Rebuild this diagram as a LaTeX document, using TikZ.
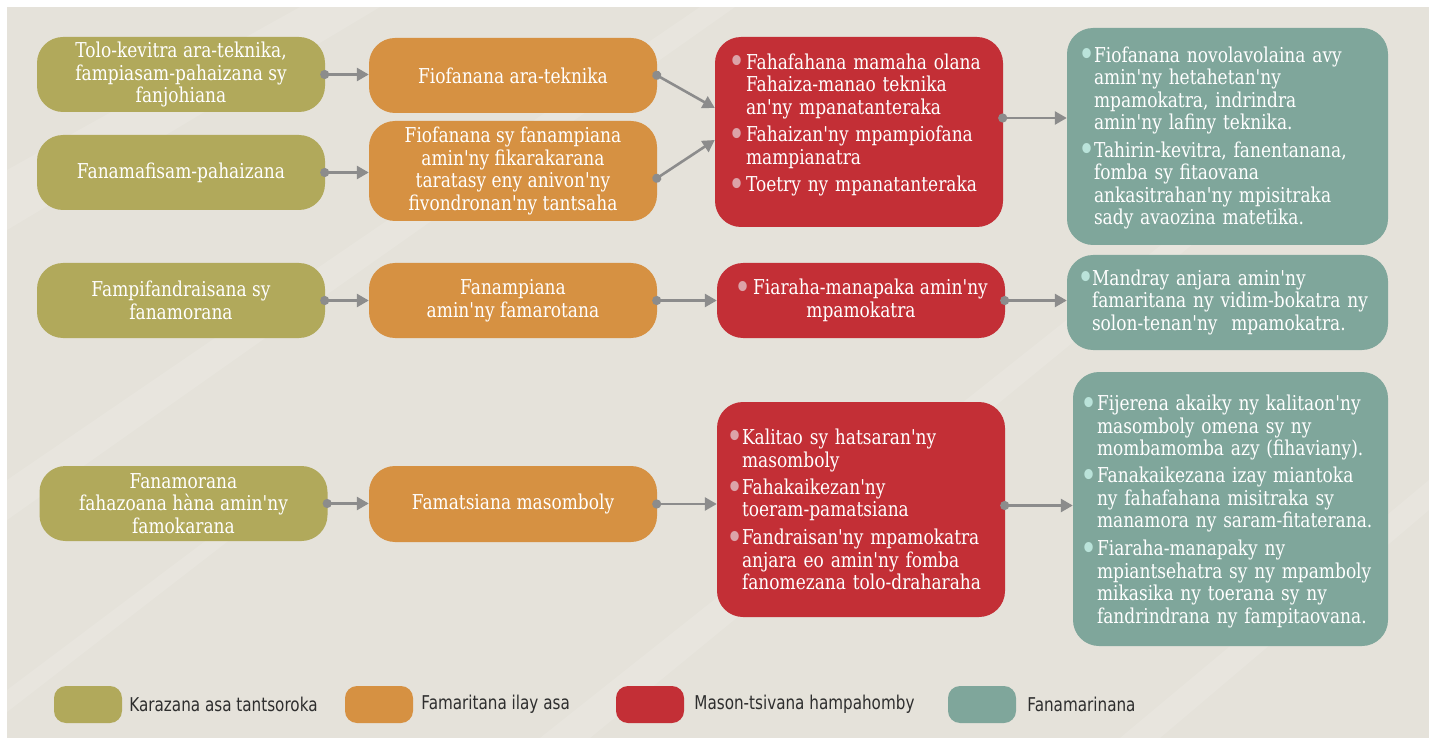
\documentclass[tikz,border=0pt]{standalone}
\usepackage{fontspec}
\setmainfont{DejaVu Serif}[FakeStretch=0.83,Ligatures=TeXOff]
\newfontfamily\legendfont{DejaVu Sans}[FakeStretch=0.8,Ligatures=TeXOff]
\usetikzlibrary{arrows.meta}

\definecolor{paper}{HTML}{E5E2DA}
\definecolor{kindolive}{HTML}{B1A95B}
\definecolor{kindorange}{HTML}{D69142}
\definecolor{kindred}{HTML}{C32F36}
\definecolor{kindteal}{HTML}{7FA69B}
\definecolor{reddot}{HTML}{DCA3A8}
\definecolor{tealdot}{HTML}{BAE3DA}
\definecolor{linkgray}{HTML}{8C8C8C}
\definecolor{legendtext}{HTML}{2E2E2E}

\newcommand{\rdot}{\textcolor{reddot}{\raisebox{-4.5pt}{\scalebox{1.7}{\textbullet}}}}
\newcommand{\tdot}{\textcolor{tealdot}{\raisebox{-4.5pt}{\scalebox{1.7}{\textbullet}}}}
% one bullet paragraph, later lines hang under the text
\newlength{\bindent}
\setlength{\bindent}{16pt}
\newcommand{\bitem}[2]{\par\noindent\hangindent=\bindent\hangafter=1%
  \makebox[\bindent][l]{#1}{\let\\\newline#2}\par}

\begin{document}
\begin{tikzpicture}[x=1pt,y=-1pt,
    box/.style={rounded corners=26pt, inner sep=0pt, text=white, align=center,
      minimum width=288pt, minimum height=75pt, font=\fontsize{20.5}{22.5}\selectfont},
    txt/.style={inner sep=0pt, text=white, anchor=north west,
      font=\fontsize{20.5}{22.5}\selectfont\setlength{\parskip}{5pt}},
    swatch/.style={rounded corners=12pt, minimum width=68pt, minimum height=37pt, inner sep=0pt},
    key/.style={anchor=west, inner sep=0pt, text=legendtext, font=\legendfont\fontsize{19}{20}\selectfont},
    link/.style={draw=linkgray, line width=2.6pt, arrows={Circle[length=9pt]-Triangle[length=12pt,width=13pt]},
      shorten <=-5pt}]
  \useasboundingbox (0,0) rectangle (1436,738);
  \fill[paper] (7,7) rectangle (1429,738);
  % light streaks
  \begin{scope}[white, opacity=0.12]
    \fill (7,170) -- (300,7) -- (380,7) -- (7,230) -- cycle;
    \fill (7,480) -- (700,7) -- (735,7) -- (7,520) -- cycle;
    \fill (540,738) -- (1180,230) -- (1210,230) -- (590,738) -- cycle;
    \fill (1120,738) -- (1429,480) -- (1429,510) -- (1160,738) -- cycle;
    \fill (7,690) -- (300,470) -- (320,470) -- (7,712) -- cycle;
  \end{scope}

  % kinds of support
  \node[box, fill=kindolive] at (181,74.5) (A1) {Tolo-kevitra ara-teknika,\\fampiasam-pahaizana sy\\fanjohiana};
  \node[box, fill=kindolive] at (181,172.5) (A2) {Fanamafisam-pahaizana};
  \node[box, fill=kindolive] at (181,300.5) (A3) {Fampifandraisana sy\\fanamorana};
  \node[box, fill=kindolive] at (183.5,503.5) (A4) {Fanamorana\\fahazoana h\`ana amin'ny\\famokarana};

  \node[box, fill=kindorange] at (513,75.5) (B1) {Fiofanana ara-teknika};
  \node[box, fill=kindorange, minimum height=100pt] at (513,171) (B2) {Fiofanana sy fanampiana\\amin'ny fikarakarana\\taratasy eny anivon'ny\\fivondronan'ny tantsaha};
  \node[box, fill=kindorange] at (513,300.5) (B3) {Fanampiana\\amin'ny famarotana};
  \node[box, fill=kindorange, minimum height=76pt] at (513,504) (B4) {Famatsiana masomboly};

  \node[box, fill=kindred, minimum height=190pt] at (859,132) (C1) {};
  \node[box, fill=kindred] at (861,300.5) (C2) {\rdot\kern2pt Fiaraha-manapaka amin'ny\\mpamokatra};
  \node[box, fill=kindred, minimum height=215pt] at (861,509.5) (C3) {};

  \node[box, fill=kindteal, minimum width=321pt, minimum height=217pt] at (1227.5,136.5) (D1) {};
  \node[box, fill=kindteal, minimum width=321pt, minimum height=95pt] at (1227.5,302.5) (D2) {};
  \node[box, fill=kindteal, minimum width=315pt, minimum height=274pt] at (1230.5,509) (D3) {};

  \node[txt, text width=275pt] at ([shift={(13,5)}]C1.north west) (C1t) {\setlength{\bindent}{18pt}%
    \bitem{\rdot}{Fahafahana mamaha olana\\Fahaiza-manao teknika\\an'ny mpanatanteraka}
    \bitem{\rdot}{Fahaizan'ny mpampiofana\\mampianatra}
    \bitem{\rdot}{Toetry ny mpanatanteraka}};
  \node[txt, text width=275pt] at ([shift={(9,15)}]C3.north west) (C3t) {\setlength{\bindent}{16pt}%
    \bitem{\rdot}{Kalitao sy hatsaran'ny\\masomboly}
    \bitem{\rdot}{Fahakaikezan'ny\\toeram-pamatsiana}
    \bitem{\rdot}{Fandraisan'ny mpamokatra\\anjara eo amin'ny fomba\\fanomezana tolo-draharaha}};
  \node[txt, text width=310pt] at ([shift={(11,7)}]D1.north west) (D1t) {\setlength{\bindent}{16pt}%
    \bitem{\tdot}{Fiofanana novolavolaina avy\\amin'ny hetahetan'ny\\mpamokatra, indrindra\\amin'ny lafiny teknika.}
    \bitem{\tdot}{Tahirin-kevitra, fanentanana,\\fomba sy fitaovana\\ankasitrahan'ny mpisitraka\\sady avaozina matetika.}};
  \node[txt, text width=310pt] at ([shift={(10,3)}]D2.north west) (D2t) {\setlength{\bindent}{15pt}%
    \bitem{\tdot}{Mandray anjara amin'ny\\famaritana ny vidim-bokatra ny\\solon-tenan'ny\ \ mpamokatra.}};
  \node[txt, text width=310pt] at ([shift={(7,11)}]D3.north west) (D3t) {\setlength{\bindent}{17pt}%
    \bitem{\tdot}{Fijerena akaiky ny kalitaon'ny\\masomboly omena sy ny\\mombamomba azy (fihaviany).}
    \bitem{\tdot}{Fanakaikezana izay miantoka\\ny fahafahana misitraka sy\\manamora ny saram-fitaterana.}
    \bitem{\tdot}{Fiaraha-manapaky ny\\mpiantsehatra sy ny mpamboly\\mikasika ny toerana sy ny\\fandrindrana ny fampitaovana.}};

  % connectors
  \draw[link] (A1.east) -- (A1.east -| B1.west);
  \draw[link] (A2.east) -- (A2.east -| B2.west);
  \draw[link] (B1.east) -- ([yshift=24pt]C1.west);
  \draw[link] ([yshift=-7pt]B2.east) -- ([yshift=-8pt]C1.west);
  \draw[link] ([yshift=14pt]C1.east) -- ([yshift=14pt]C1.east -| D1.west);
  \draw[link] (A3.east) -- (B3.west);
  \draw[link] (B3.east) -- (C2.west);
  \draw[link] (C2.east) -- (C2.east -| D2.west);
  \draw[link] (A4.east) -- (A4.east -| B4.west);
  \draw[link] (B4.east) -- (B4.east -| C3.west);
  \draw[link] ([yshift=4pt]C3.east) -- ([yshift=4pt]C3.east -| D3.west);

  % legend
  \node[swatch, fill=kindolive] at (88,704.5) (L1) {};
  \node[key] at ([xshift=7pt]L1.east) (K1) {Karazana asa tantsoroka};
  \node[swatch, fill=kindorange] at (379,704.5) (L2) {};
  \node[key] at ([xshift=8pt]L2.east) (K2) {Famaritana ilay asa};
  \node[swatch, fill=kindred] at (650,704.5) (L3) {};
  \node[key] at ([xshift=10pt]L3.east) (K3) {Mason-tsivana hampahomby};
  \node[swatch, fill=kindteal] at (982,704.5) (L4) {};
  \node[key] at ([xshift=11pt]L4.east) (K4) {Fanamarinana};
\end{tikzpicture}
\end{document}
